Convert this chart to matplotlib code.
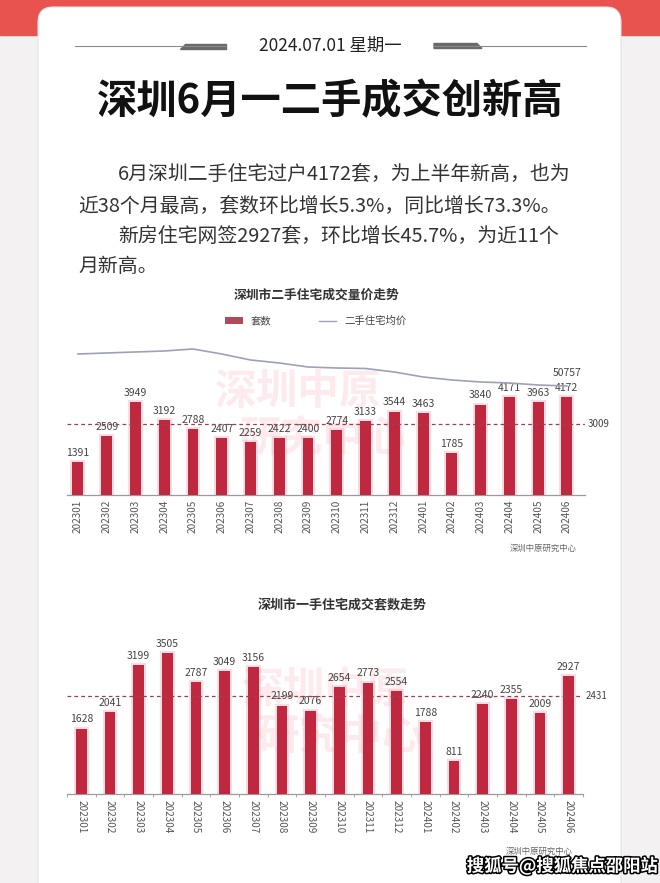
import matplotlib
matplotlib.use('Agg')
import matplotlib.pyplot as plt
import matplotlib.patheffects as pe
from matplotlib.patches import FancyBboxPatch, Rectangle, Polygon, Patch
from matplotlib.lines import Line2D

plt.rcParams['font.family'] = ['Noto Sans CJK SC', 'DejaVu Sans']

# data
months = ['202301', '202302', '202303', '202304', '202305', '202306',
          '202307', '202308', '202309', '202310', '202311', '202312',
          '202401', '202402', '202403', '202404', '202405', '202406']
resale_units = [1391, 2509, 3949, 3192, 2788, 2407, 2259, 2422, 2400,
                2774, 3133, 3544, 3463, 1785, 3840, 4171, 3963, 4172]
# second-hand avg price (only the last one is labelled, rest estimated)
resale_price = [58760, 59010, 59260, 59510, 60010, 58760, 57260, 56510, 55510,
                55260, 55130, 54260, 53010, 52260, 51760, 51510, 51010, 50757]
resale_avg = 3009
new_units = [1628, 2041, 3199, 3505, 2787, 3049, 3156, 2199, 2076,
             2654, 2773, 2554, 1788, 811, 2240, 2355, 2009, 2927]
new_avg = 2431

W, H = 660, 883
fig = plt.figure(figsize=(6.6, 8.83), dpi=100, facecolor='#f3f1f1')


def fx(x):
    return x / W


def fy(y):
    return 1 - y / H


# background: red band + white card
fig.add_artist(Rectangle((0, fy(35)), 1, 35 / H, transform=fig.transFigure,
                         color='#e9534f', zorder=-5))
fig.add_artist(FancyBboxPatch((0.38, -0.3), 5.83, 8.76 + 0.3,
                              boxstyle='round,pad=0,rounding_size=0.15',
                              transform=fig.dpi_scale_trans,
                              facecolor='white', edgecolor='#e4e0e0',
                              linewidth=0.8, zorder=-4))

# date header
fig.text(fx(330), fy(46), '2024.07.01 星期一', ha='center', va='center',
         fontsize=12.5, color='#222222')
fig.add_artist(Line2D([fx(75), fx(226)], [fy(46), fy(46)], color='#8a8a8a',
                      lw=0.8, transform=fig.transFigure))
fig.add_artist(Line2D([fx(434), fx(586)], [fy(46), fy(46)], color='#8a8a8a',
                      lw=0.8, transform=fig.transFigure))
fig.add_artist(Polygon([[fx(180), fy(48.5)], [fx(226), fy(48.5)], [fx(226), fy(43.5)],
                        [fx(185), fy(43.5)]], closed=True, color='#6a6a6a',
                       transform=fig.transFigure))
fig.add_artist(Polygon([[fx(434), fy(48.5)], [fx(482), fy(48.5)], [fx(477), fy(43.5)],
                        [fx(434), fy(43.5)]], closed=True, color='#6a6a6a',
                       transform=fig.transFigure))

# big title
fig.text(fx(330), fy(102), '深圳6月一二手成交创新高', ha='center', va='center',
         fontsize=29, fontweight='heavy', color='#111111')

# paragraph
para_kw = dict(va='center', ha='left', fontsize=14.3, color='#333333')
fig.text(fx(118), fy(174), '6月深圳二手住宅过户4172套，为上半年新高，也为', **para_kw)
fig.text(fx(78), fy(206), '近38个月最高，套数环比增长5.3%，同比增长73.3%。', **para_kw)
fig.text(fx(118), fy(236), '新房住宅网签2927套，环比增长45.7%，为近11个', **para_kw)
fig.text(fx(78), fy(267), '月新高。', **para_kw)

bar_color = '#c0283f'
halo_color = '#f5b3bf'
x = list(range(len(months)))


def style_axes(ax):
    ax.set_facecolor('none')
    for s in ['top', 'left', 'right']:
        ax.spines[s].set_visible(False)
    ax.spines['bottom'].set_color('#9a9a9a')
    ax.spines['bottom'].set_linewidth(0.9)
    ax.set_yticks([])


# ---------- chart 1: second-hand ----------
fig.text(fx(316), fy(295), '深圳市二手住宅成交量价走势', ha='center', va='center',
         fontsize=9.2, fontweight='bold', color='#333333')
fig.legend(handles=[Patch(facecolor='#b24a5c'),
                    Line2D([0], [0], color='#9da2b6', lw=1)],
           labels=['套数', '二手住宅均价'], loc='center',
           bbox_to_anchor=(fx(316), fy(321)), ncol=2, frameon=False,
           fontsize=7.5, columnspacing=4.5, handlelength=1.7,
           handleheight=0.6, labelcolor='#444444')

fig.text(fx(298), fy(392), '深圳中原', ha='center', va='center', fontsize=30,
         fontweight='heavy', color='#e8324a', alpha=0.1, zorder=-1)
fig.text(fx(322), fy(440), '研究中心', ha='center', va='center', fontsize=30,
         fontweight='heavy', color='#e8324a', alpha=0.1, zorder=-1)

ax1 = fig.add_axes([fx(67), fy(495), (585 - 67) / W, 160 / H])
style_axes(ax1)
ax1.bar(x, resale_units, width=0.38, color='none', edgecolor=halo_color,
        linewidth=3, alpha=0.45, zorder=2)
ax1.bar(x, resale_units, width=0.38, color=bar_color, zorder=3)
ax1.set_xlim(-0.38, 17.63)
ax1.set_ylim(0, 6794)
ax1.axhline(resale_avg, color='#9b4050', lw=0.9, ls=(0, (3, 2.5)), zorder=4)
for i, v in enumerate(resale_units):
    ax1.annotate(str(v), (i, v), xytext=(0, 3), textcoords='offset points',
                 ha='center', va='bottom', fontsize=7.5, color='#444444')
ax1.annotate(str(resale_avg), (1, resale_avg), xycoords=('axes fraction', 'data'),
             xytext=(2, 0), textcoords='offset points', ha='left', va='center',
             fontsize=7, color='#444444')
ax1.set_xticks(x)
ax1.set_xticklabels(months, rotation=90, fontsize=7.2, color='#555555')
ax1.tick_params(axis='x', length=0, pad=3.5)

ax1b = ax1.twinx()
ax1b.set_facecolor('none')
ax1b.axis('off')
ax1b.plot(x, resale_price, color='#9da2b6', lw=1.2, zorder=5)
ax1b.set_ylim(23507, 63507)
ax1b.annotate(str(resale_price[-1]), (x[-1], resale_price[-1]), xytext=(0, 6),
              textcoords='offset points', ha='center', va='bottom',
              fontsize=7.5, color='#444444')

fig.text(fx(543), fy(548), '深圳中原研究中心', ha='center', va='center',
         fontsize=6, color='#666666')

# ---------- chart 2: new homes ----------
fig.text(fx(342), fy(605), '深圳市一手住宅成交套数走势', ha='center', va='center',
         fontsize=9.4, fontweight='bold', color='#333333')

fig.text(fx(325), fy(690), '深圳中原', ha='center', va='center', fontsize=30,
         fontweight='heavy', color='#e8324a', alpha=0.1, zorder=-1)
fig.text(fx(340), fy(738), '研究中心', ha='center', va='center', fontsize=30,
         fontweight='heavy', color='#e8324a', alpha=0.1, zorder=-1)

ax2 = fig.add_axes([fx(67), fy(794), (583 - 67) / W, 154 / H])
style_axes(ax2)
ax2.bar(x, new_units, width=0.38, color='none', edgecolor=halo_color,
        linewidth=3, alpha=0.45, zorder=2)
ax2.bar(x, new_units, width=0.38, color=bar_color, zorder=3)
ax2.set_xlim(-0.49, 17.49)
ax2.set_ylim(0, 3831)
ax2.axhline(new_avg, color='#9b4050', lw=0.9, ls=(0, (3, 2.5)), zorder=4)
for i, v in enumerate(new_units):
    ax2.annotate(str(v), (i, v), xytext=(0, 3), textcoords='offset points',
                 ha='center', va='bottom', fontsize=7.5, color='#444444')
ax2.annotate(str(new_avg), (1, new_avg), xycoords=('axes fraction', 'data'),
             xytext=(2, 0), textcoords='offset points', ha='left', va='center',
             fontsize=7, color='#444444')
ax2.set_xticks([i - 0.5 for i in x] + [17.5], minor=True)
ax2.set_xticks(x)
ax2.set_xticklabels(months, rotation=270, fontsize=7.2, color='#555555')
ax2.tick_params(axis='x', which='major', length=0, pad=4)
ax2.tick_params(axis='x', which='minor', length=2.5, color='#999999')

fig.text(fx(539), fy(851), '深圳中原研究中心', ha='center', va='center',
         fontsize=6, color='#666666')

# site watermark
fig.text(fx(658), fy(866), '搜狐号@搜狐焦点邵阳站', ha='right', va='center',
         fontsize=12.5, fontweight='bold', color='white',
         path_effects=[pe.withStroke(linewidth=2.2, foreground='black')])

fig.savefig('out.png', dpi=100, facecolor=fig.get_facecolor())
